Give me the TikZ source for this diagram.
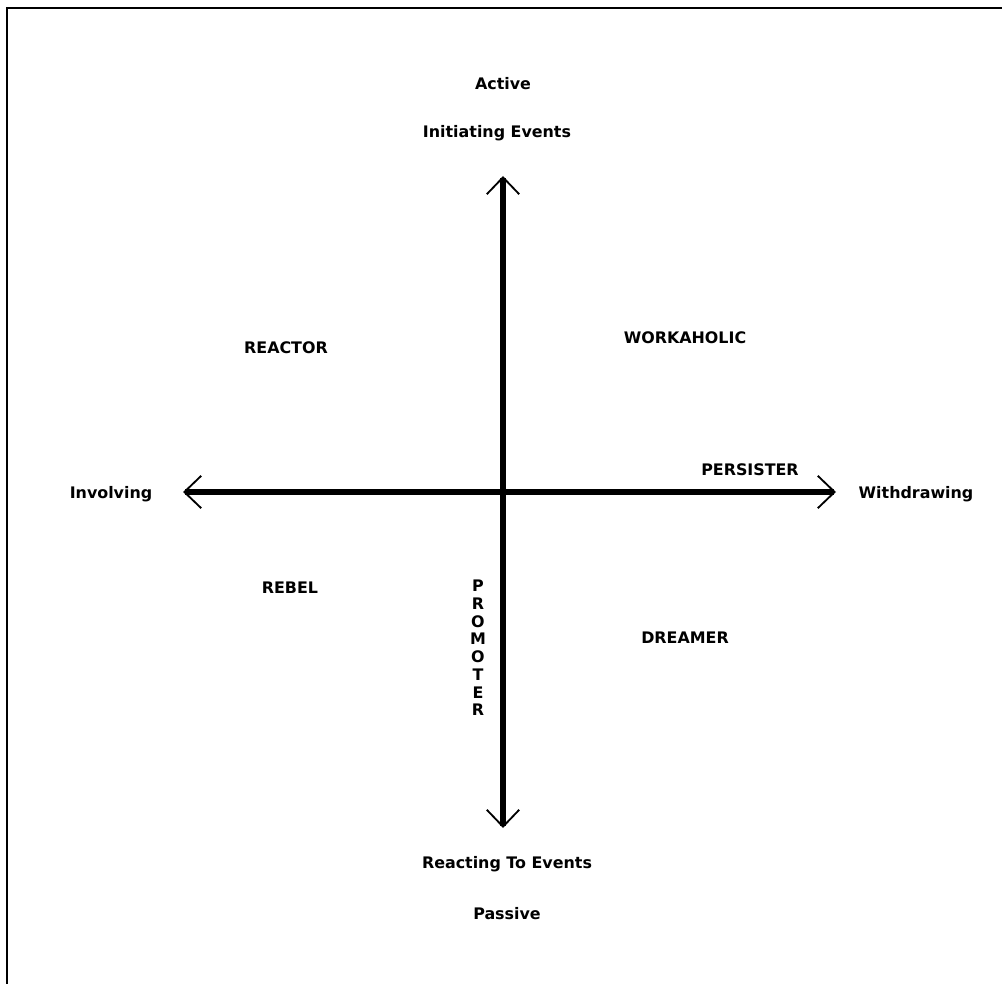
\documentclass[tikz,border=0pt]{standalone}
\usepackage{fontspec}
\setmainfont{DejaVu Sans}
\usetikzlibrary{arrows.meta}

\begin{document}
\begin{tikzpicture}[x=0.025cm,y=-0.025cm,
  axis/.style={line width=4.2pt,-{Straight Barb[line width=1.3pt,length=12pt,width=23pt]}},
  lbl/.style={font=\bfseries\fontsize{11.3}{12}\selectfont,inner sep=1pt}]
  \useasboundingbox (0,0) rectangle (1002,984);
  % frame (only top and left edges show)
  \draw[line width=1.4pt] (7,984) -- (7,8) -- (1002,8);
  % axes
  \coordinate (o) at (503,492);
  \coordinate (top) at (503,176);
  \coordinate (bot) at (503,828);
  \coordinate (lft) at (183,492);
  \coordinate (rgt) at (836,492);
  \draw[axis] (o) -- (top);
  \draw[axis] (o) -- (bot);
  \draw[axis] (o) -- (lft);
  \draw[axis] (o) -- (rgt);
  % axis ends
  \node[lbl] (active) at (503,84) {Active};
  \node[lbl] (init) at (497,133) {Initiating Events};
  \node[lbl] (react) at (507,864) {Reacting To Events};
  \node[lbl] (passive) at (507,914) {Passive};
  \node[lbl] (involv) at (111,494) {Involving};
  \node[lbl] (withdr) at (916,494) {Withdrawing};
  % quadrants
  \node[lbl] (reactor) at (286,348) {REACTOR};
  \node[lbl] (workah) at (685,338) {WORKAHOLIC};
  \node[lbl] (persist) at (750,470) {PERSISTER};
  \node[lbl] (rebel) at (290,588) {REBEL};
  \node[lbl] (dreamer) at (685,638) {DREAMER};
  \node[lbl,align=center,font=\bfseries\fontsize{11.3}{12.6}\selectfont] (promot) at (478,648) {P\\R\\O\\M\\O\\T\\E\\R};
\end{tikzpicture}
\end{document}
